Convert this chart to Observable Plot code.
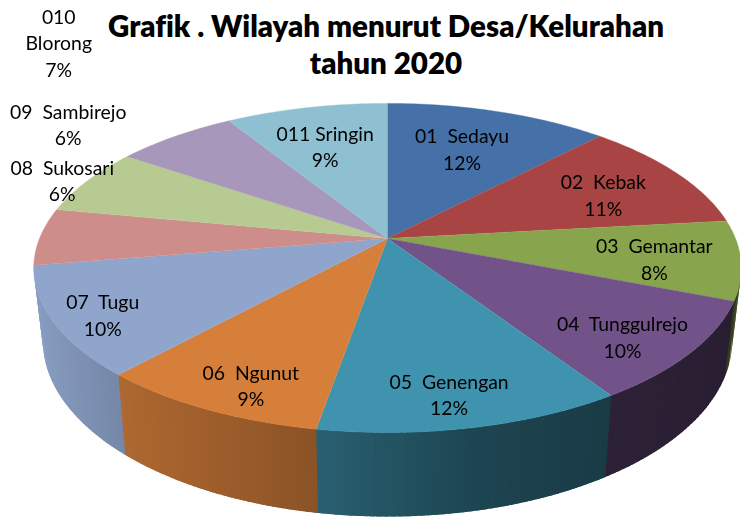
<!DOCTYPE html>
<html><head><meta charset="utf-8">
<script src="https://cdn.jsdelivr.net/npm/d3@7"></script>
<script src="https://cdn.jsdelivr.net/npm/@observablehq/plot@0.6"></script>
<style>
html,body{margin:0;padding:0;background:#fff;overflow:hidden}
#wrap{position:relative;width:740px;height:518px}
#title{position:absolute;left:32px;width:708px;top:7px;text-align:center;font:800 29.5px/37px Lato,sans-serif;font-variant-ligatures:none;color:#000;z-index:2}
svg{display:block;filter:blur(.4px)}
</style></head><body>
<div id="wrap"><div id="title">Grafik . Wilayah menurut Desa/Kelurahan<br>tahun 2020</div></div>
<script>
const categories = ["01  Sedayu","02  Kebak","03  Gemantar","04  Tunggulrejo","05  Genengan","06  Ngunut","07  Tugu","08  Sukosari","09  Sambirejo","010\nBlorong","011 Sringin"];
const shares = [12.1,11.1,7.8,9.8,11.9,9.0,10.7,5.6,6.6,6.6,8.8];
const percentLabels = ["12%","11%","8%","10%","12%","9%","10%","6%","6%","7%","9%"];
const colors = ["#4571a8","#a84443","#88a44c","#715389","#3f93ae","#d67f3b","#8fa5cc","#cd8d8b","#b7ca92","#a797bb","#8fc0d2"];
const labelReach = [.665,.71,.76,.826,.85,.862,.875,1.07,1.33,1.98,.67];
const labelTurn = [-.8,3,2.2,3.4,1.5,-2.9,-2,20.3,15.1,5.9,-1.5];

// Perspective view of the pie's two discs
const topDisc = {cx:387, cy:238, rx:348, ry:159.3, k:.179};
const baseDisc = {cx:387, cy:309, rx:339, ry:170, k:.179};
function project(d, a, r = 1) {
  const u = r * Math.sin(a), v = -r * Math.cos(a), w = 1 - d.k * v;
  return {x: d.cx + d.rx * u / w, y: d.cy + d.ry * v / w};
}
const shade = d3.scaleLinear().domain([35,125,316,470,610,730]).range([.95,.81,.65,.47,.40,.36]);
const slices = d3.pie().sort(null).value(d => d)(shares);
const step = Math.PI / 180;

const topPoints = [], sidePoints = [];
slices.forEach((s, i) => {
  const n = Math.ceil((s.endAngle - s.startAngle) / step);
  const angles = d3.range(n + 1).map(j => s.startAngle + (s.endAngle - s.startAngle) * j / n);
  topPoints.push({id:i, color:colors[i], x:topDisc.cx, y:topDisc.cy});
  angles.forEach(a => topPoints.push({id:i, color:colors[i], ...project(topDisc, a)}));
  d3.pairs(angles).forEach(([a0, a1], j) => {
    // only the faces toward the viewer show; each strip runs under the next one so no seams appear
    if (Math.max(-Math.cos(a0), -Math.cos(a1)) < .17) return;
    const a2 = a1 + step * (a1 < Math.PI * .6 ? 0 : .8);
    const p = [project(topDisc,a0), project(topDisc,a2), project(baseDisc,a2), project(baseDisc,a0)];
    const c = d3.rgb(colors[i]), f = shade(d3.mean(p, q => q.x));
    const color = d3.rgb(c.r*f, c.g*f, c.b*f).formatHex();
    p.forEach(q => sidePoints.push({id:`${i}-${j}`, color, ...q}));
  });
});
const labels = slices.map((s, i) => ({
  text: categories[i] + "\n" + percentLabels[i],
  ...project(topDisc, (s.startAngle + s.endAngle) / 2 + labelTurn[i] * Math.PI / 180, labelReach[i])
}));

const chart = Plot.plot({
  width: 740, height: 518, margin: 0,
  x: {domain: [0, 740], axis: null},
  y: {domain: [518, 0], axis: null},
  style: {background: "transparent"},
  marks: [
    Plot.line(sidePoints, {x:"x", y:"y", z:"id", fill:"color"}),
    Plot.line(topPoints, {x:"x", y:"y", z:"id", fill:"color", stroke:"color", strokeWidth:.4}),
    Plot.text(labels, {x:"x", y:"y", dy:-1.5, text:"text", fontSize:19.4, lineHeight:1.36, fill:"#000", fontFamily:"Lato, sans-serif", textAnchor:"middle", lineAnchor:"middle"})
  ]
});
document.getElementById("wrap").appendChild(chart);
</script>
</body></html>
